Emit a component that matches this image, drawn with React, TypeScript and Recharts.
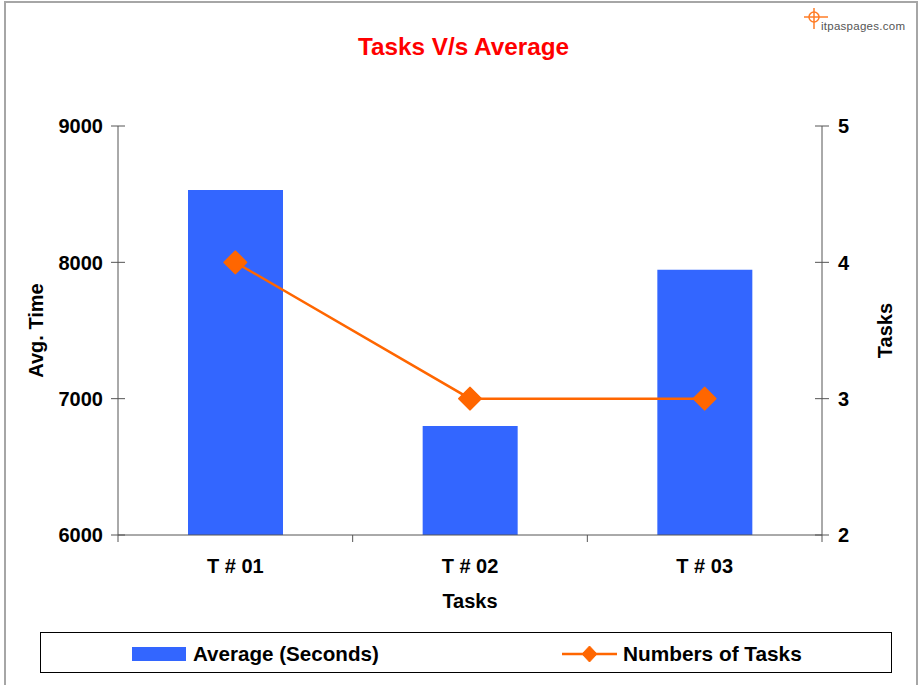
import React from 'react';
import { ComposedChart, Bar, Line, XAxis, YAxis } from 'recharts';

const categories = ['T # 01', 'T # 02', 'T # 03'];
const avgSeconds = [8530, 6800, 7945];
const taskCounts = [4, 3, 3];
const leftTicks = [6000, 7000, 8000, 9000];
const rightTicks = [2, 3, 4, 5];

const FONT = '"Liberation Sans", Arial, sans-serif';
const AXIS = '#555';
const BLUE = '#3366ff';
const ORANGE = '#ff6600';

const W = 921;
const H = 685;
const MARGIN = { top: 126, right: 31, bottom: 70, left: 30 };
const LEFT_W = 88;
const RIGHT_W = 68;
const PLOT_W = W - MARGIN.left - MARGIN.right - LEFT_W - RIGHT_W;
const HALF_BAND = PLOT_W / categories.length / 2;

const data = categories.map((name, i) => ({
  name,
  avg: avgSeconds[i],
  tasks: taskCounts[i],
}));

const LeftTick = ({ x, y, payload }: any) => (
  <g>
    <line x1={x + 8} x2={x + 22} y1={y} y2={y} stroke={AXIS} />
    <text x={x} y={y} dy="0.36em" textAnchor="end" fontFamily={FONT} fontWeight="bold" fontSize={20} fill="#000">
      {payload.value}
    </text>
  </g>
);

const RightTick = ({ x, y, payload }: any) => (
  <g>
    <line x1={x - 23} x2={x - 9} y1={y} y2={y} stroke={AXIS} />
    <text x={x} y={y} dy="0.36em" textAnchor="start" fontFamily={FONT} fontWeight="bold" fontSize={20} fill="#000">
      {payload.value}
    </text>
  </g>
);

const CatTick = ({ x, y, payload, index }: any) => (
  <g>
    {index === 0 && <line x1={x - HALF_BAND} x2={x - HALF_BAND} y1={y} y2={y + 7} stroke={AXIS} />}
    <line x1={x + HALF_BAND} x2={x + HALF_BAND} y1={y} y2={y + 7} stroke={AXIS} />
    <text x={x} y={y + 38} textAnchor="middle" fontFamily={FONT} fontWeight="bold" fontSize={20} fill="#000">
      {payload.value}
    </text>
  </g>
);

const Diamond = ({ cx, cy, index }: any) => (
  <path
    key={`d-${index}`}
    d={`M${cx},${cy - 11}L${cx + 11},${cy}L${cx},${cy + 11}L${cx - 11},${cy}Z`}
    fill={ORANGE}
    stroke={ORANGE}
    strokeWidth={2}
    strokeLinejoin="round"
  />
);

const labelStyle = { fontFamily: FONT, fontWeight: 'bold', fontSize: 20, fill: '#000', textAnchor: 'middle' } as any;

export default function App() {
  return (
    <div style={{ position: 'absolute', left: 0, top: 0, width: W, height: H, overflow: 'hidden', background: '#fff' }}>
      <div
        style={{
          position: 'absolute',
          left: 4,
          top: 1,
          width: 914,
          height: 720,
          border: '2px solid #a6a6a6',
          boxSizing: 'border-box',
        }}
      />
      <div style={{ position: 'absolute', left: 0, top: 0 }}>
        <ComposedChart width={W} height={H} data={data} margin={MARGIN}>
          <XAxis
            dataKey="name"
            stroke={AXIS}
            tickLine={false}
            tickSize={0}
            tickMargin={0}
            height={80}
            tick={<CatTick />}
            label={{ value: 'Tasks', position: 'insideBottom', offset: 7, style: labelStyle }}
          />
          <YAxis
            yAxisId="left"
            orientation="left"
            width={LEFT_W}
            domain={[6000, 9000]}
            ticks={leftTicks}
            stroke={AXIS}
            tickLine={false}
            tickSize={7}
            tickMargin={8}
            tick={<LeftTick />}
            label={{ value: 'Avg. Time', angle: -90, position: 'insideLeft', offset: 6, style: labelStyle }}
          />
          <YAxis
            yAxisId="right"
            orientation="right"
            width={RIGHT_W}
            domain={[2, 5]}
            ticks={rightTicks}
            stroke={AXIS}
            tickLine={false}
            tickSize={7}
            tickMargin={9}
            tick={<RightTick />}
            label={{ value: 'Tasks', angle: -90, position: 'insideRight', offset: 5, style: labelStyle }}
          />
          <Bar yAxisId="left" dataKey="avg" name="Average (Seconds)" fill={BLUE} barSize={95} isAnimationActive={false} />
          <Line
            yAxisId="right"
            type="linear"
            dataKey="tasks"
            name="Numbers of Tasks"
            stroke={ORANGE}
            strokeWidth={2.5}
            dot={<Diamond />}
            activeDot={false}
            isAnimationActive={false}
          />
        </ComposedChart>
      </div>
      <svg width={W} height={H} style={{ position: 'absolute', left: 0, top: 0, pointerEvents: 'none' }}>
        <text x={463.5} y={55} textAnchor="middle" fontFamily={FONT} fontWeight="bold" fontSize={24.3} fill="#ff0000">
          Tasks V/s Average
        </text>
        {/* small site logo, top right */}
        <g stroke={ORANGE} strokeWidth={1.5} fill="none" opacity={0.85}>
          <circle cx={814} cy={17} r={5} />
          <line x1={804} x2={828} y1={17} y2={17} />
          <line x1={814} x2={814} y1={8} y2={29} />
        </g>
        <text x={821} y={30} fontFamily={FONT} fontSize={11.5} fill="#555" textLength={84}>itpaspages.com</text>
        {/* legend */}
        <rect x={40.5} y={632.5} width={851} height={40} fill="#fff" stroke="#000" strokeWidth={1} />
        <rect x={132} y={647} width={54} height={14} fill={BLUE} />
        <text x={193} y={661} fontFamily={FONT} fontWeight="bold" fontSize={20.6} fill="#000">Average (Seconds)</text>
        <line x1={562} x2={617} y1={654} y2={654} stroke={ORANGE} strokeWidth={2.5} />
        <path d="M589.5,646L597,654L589.5,662L582,654Z" fill={ORANGE} stroke={ORANGE} strokeLinejoin="round" />
        <text x={623} y={661} fontFamily={FONT} fontWeight="bold" fontSize={20.8} fill="#000">Numbers of Tasks</text>
      </svg>
    </div>
  );
}
